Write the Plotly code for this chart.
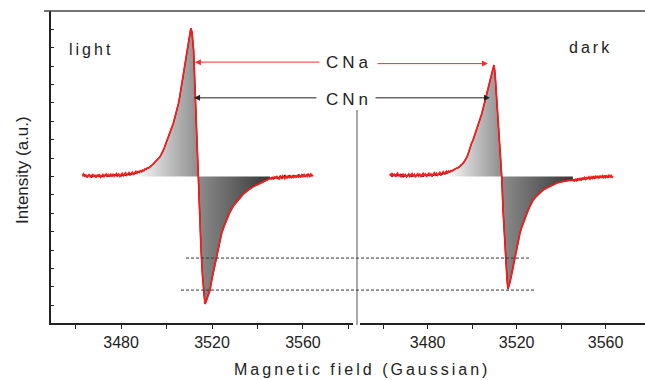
import plotly.graph_objects as go

FONT = "Liberation Sans, Arial, sans-serif"
INK = "#222222"
W, H = 645, 380

# ---------------- data (field in Gauss, intensity in a.u.) ----------------
light_red = [
    (3463.0, 0.06), (3463.5, 0.14), (3464.0, 0.00), (3464.5, 0.11), (3465.0, -0.05), (3465.5, 0.07),
    (3466.0, 0.13), (3466.5, -0.04), (3467.0, 0.05), (3467.5, 0.13), (3468.0, -0.02), (3468.5, 0.09),
    (3469.0, -0.06), (3469.5, 0.07), (3470.0, 0.02), (3470.5, 0.12), (3471.0, -0.03), (3471.5, 0.06),
    (3472.0, 0.11), (3472.5, -0.01), (3473.0, 0.08), (3473.5, 0.14), (3474.0, 0.01), (3474.5, 0.10),
    (3475.0, 0.00), (3475.5, 0.12), (3476.0, 0.04), (3476.5, 0.15), (3477.0, 0.02), (3477.5, 0.11),
    (3478.0, 0.16), (3478.5, 0.04), (3479.0, 0.13), (3479.5, 0.01), (3480.0, 0.10), (3480.5, 0.17),
    (3481.0, 0.05), (3481.5, 0.14), (3482.0, 0.20), (3482.5, 0.07), (3483.0, 0.16), (3483.5, 0.22),
    (3484.0, 0.10), (3484.5, 0.19), (3485.0, 0.24), (3485.5, 0.13), (3486.0, 0.22), (3486.5, 0.28),
    (3487.0, 0.18), (3487.5, 0.28), (3488.0, 0.23), (3488.5, 0.31), (3489.0, 0.27), (3489.5, 0.35),
    (3490.0, 0.32), (3490.5, 0.40), (3491.0, 0.39), (3491.5, 0.46), (3492.0, 0.46), (3492.5, 0.53),
    (3493.0, 0.56), (3493.5, 0.61), (3494.0, 0.66), (3494.5, 0.72), (3495.0, 0.78), (3495.5, 0.85),
    (3496.0, 0.90), (3496.5, 0.99), (3497.0, 1.06), (3497.5, 1.16), (3498.0, 1.26), (3498.5, 1.41),
    (3499.0, 1.55), (3499.5, 1.71), (3500.0, 1.86), (3500.5, 2.04), (3501.0, 2.20), (3501.5, 2.37),
    (3502.0, 2.55), (3502.5, 2.73), (3503.0, 2.90), (3503.5, 3.13), (3504.0, 3.35), (3504.6, 3.62),
    (3505.2, 3.95), (3505.8, 4.33), (3506.3, 4.70), (3506.8, 5.09), (3507.4, 5.50), (3508.0, 5.91),
    (3508.5, 6.30), (3509.0, 6.72), (3509.5, 7.10), (3510.0, 7.51), (3510.4, 7.85), (3510.7, 8.07),
    (3511.2, 7.85), (3511.9, 6.88), (3512.4, 5.24), (3512.9, 3.61), (3513.4, 1.71), (3513.8, 0.00),
    (3514.3, -1.28), (3514.7, -2.64), (3515.2, -4.00), (3515.8, -5.35), (3516.4, -6.44), (3516.9, -6.93),
    (3517.5, -6.75), (3518.2, -6.45), (3519.1, -6.17), (3520.0, -5.55), (3521.0, -4.95), (3522.0, -4.41),
    (3523.0, -3.75), (3524.2, -3.10), (3525.3, -2.70), (3526.4, -2.36), (3527.8, -1.95), (3529.5, -1.58),
    (3531.5, -1.28), (3533.5, -0.98), (3535.9, -0.73), (3538.5, -0.52), (3541.1, -0.37), (3543.3, -0.22),
    (3545.5, -0.10), (3546.0, -0.14), (3546.5, -0.02), (3547.0, -0.12), (3547.5, 0.00), (3548.0, -0.10),
    (3548.5, 0.03), (3549.0, -0.08), (3549.5, -0.13), (3550.0, -0.01), (3550.5, -0.09), (3551.0, 0.04),
    (3551.5, -0.07), (3552.0, -0.11), (3552.5, 0.02), (3553.0, -0.06), (3553.5, 0.05), (3554.0, -0.08),
    (3554.5, 0.03), (3555.0, -0.05), (3555.5, 0.07), (3556.0, -0.04), (3556.5, 0.06), (3557.0, -0.06),
    (3557.5, 0.08), (3558.0, -0.02), (3558.5, 0.07), (3559.0, -0.03), (3559.5, 0.09), (3560.0, 0.00),
    (3560.5, 0.10), (3561.0, -0.01), (3561.5, 0.11), (3562.0, 0.01), (3562.5, 0.12), (3563.0, 0.02),
    (3563.5, 0.13), (3564.0, 0.04), (3564.4, 0.10),
]
light_black_left = [
    (3463, 0.02), (3464, 0.10), (3465, 0.00), (3466, 0.07), (3467, -0.04), (3468, 0.05), (3469, 0.01),
    (3470, 0.08), (3471, -0.03), (3472, 0.04), (3473, 0.09), (3474, 0.00), (3475, 0.06), (3476, 0.02),
    (3477, 0.10), (3478, 0.04), (3479, 0.08), (3480, 0.03), (3481, 0.11), (3482, 0.06), (3483, 0.12),
    (3484, 0.09), (3485, 0.16), (3486, 0.14), (3487, 0.21),
]
light_black_right = [
    (3546, -0.08), (3547, -0.14), (3548, -0.05), (3549, -0.12), (3550, 0.04), (3551, -0.09),
    (3552, 0.06), (3553, -0.07), (3554, 0.05), (3555, -0.06), (3556, 0.07), (3557, -0.02),
    (3558, 0.09), (3559, -0.03), (3560, 0.10), (3561, 0.00), (3562, 0.12), (3563, 0.02), (3564, 0.08),
]

dark_red = [
    (3463.0, 0.16), (3463.5, 0.06), (3464.0, 0.19), (3464.5, 0.03), (3465.0, 0.13), (3465.5, 0.00),
    (3466.0, 0.11), (3466.5, 0.18), (3467.0, 0.02), (3467.5, 0.12), (3468.0, -0.03), (3468.5, 0.09),
    (3469.0, 0.15), (3469.5, 0.01), (3470.0, 0.10), (3470.5, -0.02), (3471.0, 0.08), (3471.5, 0.14),
    (3472.0, 0.00), (3472.5, 0.09), (3473.0, 0.16), (3473.5, 0.02), (3474.0, 0.11), (3474.5, -0.01),
    (3475.0, 0.10), (3475.5, 0.15), (3476.0, 0.03), (3476.5, 0.12), (3477.0, 0.01), (3477.5, 0.11),
    (3478.0, 0.17), (3478.5, 0.04), (3479.0, 0.13), (3479.5, 0.02), (3480.0, 0.12), (3480.5, 0.18),
    (3481.0, 0.06), (3481.5, 0.14), (3482.0, 0.04), (3482.5, 0.15), (3483.0, 0.20), (3483.5, 0.08),
    (3484.0, 0.17), (3484.5, 0.07), (3485.0, 0.18), (3485.5, 0.23), (3486.0, 0.11), (3486.5, 0.21),
    (3487.0, 0.26), (3487.5, 0.15), (3488.0, 0.24), (3488.5, 0.29), (3489.0, 0.20), (3489.5, 0.29),
    (3490.0, 0.25), (3490.5, 0.32), (3491.0, 0.31), (3491.5, 0.37), (3492.0, 0.38), (3492.5, 0.43),
    (3493.0, 0.44), (3493.5, 0.49), (3494.0, 0.50), (3494.5, 0.56), (3495.0, 0.60), (3495.5, 0.67),
    (3496.0, 0.73), (3496.5, 0.82), (3497.0, 0.92), (3497.7, 1.06), (3498.4, 1.30), (3499.0, 1.55),
    (3499.7, 1.80), (3500.4, 1.98), (3501.2, 2.25), (3502.0, 2.55), (3502.8, 2.82), (3503.5, 3.07),
    (3504.3, 3.40), (3505.1, 3.78), (3505.9, 4.15), (3506.7, 4.54), (3507.4, 4.90), (3508.2, 5.28),
    (3508.9, 5.63), (3509.4, 5.90), (3509.8, 6.06), (3510.3, 5.60), (3510.7, 4.90), (3511.0, 4.16),
    (3511.5, 3.20), (3511.9, 2.36), (3512.6, 1.20), (3513.3, 0.00), (3513.9, -1.82), (3514.4, -3.00),
    (3514.8, -4.00), (3515.3, -4.90), (3515.7, -5.62), (3516.1, -6.11), (3516.6, -5.95), (3517.0, -5.73),
    (3517.7, -5.35), (3518.4, -4.92), (3519.0, -4.45), (3519.7, -4.00), (3520.6, -3.50), (3521.5, -3.07),
    (3522.3, -2.75), (3523.1, -2.47), (3523.9, -2.20), (3524.7, -1.98), (3526.0, -1.60), (3527.4, -1.28),
    (3528.5, -1.12), (3529.6, -1.00), (3530.8, -0.85), (3531.9, -0.73), (3533.5, -0.62), (3535.0, -0.52),
    (3536.5, -0.43), (3538.1, -0.35), (3539.9, -0.29), (3541.7, -0.24), (3543.5, -0.21), (3545.3, -0.19),
    (3546.0, -0.24), (3546.5, -0.12), (3547.0, -0.22), (3547.5, -0.10), (3548.0, -0.20), (3548.5, -0.08),
    (3549.0, -0.18), (3549.5, -0.06), (3550.0, -0.16), (3550.5, -0.05), (3551.0, -0.14), (3551.5, -0.03),
    (3552.0, -0.13), (3552.5, -0.02), (3553.0, -0.11), (3553.5, -0.01), (3554.0, -0.10), (3554.5, 0.02),
    (3555.0, -0.08), (3555.5, 0.01), (3556.0, -0.09), (3556.5, 0.04), (3557.0, -0.06), (3557.5, 0.03),
    (3558.0, -0.07), (3558.5, 0.05), (3559.0, -0.04), (3559.5, 0.06), (3560.0, -0.05), (3560.5, 0.04),
    (3561.0, -0.03), (3561.5, 0.07), (3562.0, -0.02), (3562.5, 0.06), (3563.0, -0.03), (3563.3, 0.02),
]
dark_black_left = [
    (3463, 0.10), (3464, 0.01), (3465, 0.14), (3466, 0.03), (3467, 0.09), (3468, 0.13), (3469, -0.02),
    (3470, 0.06), (3471, 0.02), (3472, 0.11), (3473, 0.00), (3474, 0.07), (3475, 0.03), (3476, 0.12),
    (3477, 0.05), (3478, 0.01), (3479, 0.09), (3480, 0.04), (3481, 0.12), (3482, 0.02), (3483, 0.10),
    (3484, 0.06), (3485, 0.13), (3486, 0.08), (3487, 0.17), (3488, 0.15), (3489, 0.24),
]
dark_black_right = [
    (3546, -0.17), (3547, -0.24), (3548, -0.13), (3549, -0.20), (3550, -0.09), (3551, -0.16),
    (3552, -0.06), (3553, -0.13), (3554, -0.03), (3555, -0.10), (3556, 0.00), (3557, -0.08),
    (3558, 0.01), (3559, -0.06), (3560, 0.03), (3561, -0.05), (3562, 0.02), (3563, -0.04),
]

# shaded lobes: [start, zero crossing, end]
light_fill = [3488.0, 3513.8, 3545.5]
dark_fill = [3490.0, 3513.3, 3545.3]

# reference levels (dashed lines)
ref_levels = [-4.43, -6.17]

# arrow targets: (tip field, tip intensity, tail field)
arrows_light = {"CNa": (3512.5, 6.22, 3567.9), "CNn": (3512.1, 4.28, 3566.6)}
arrows_dark = {"CNa": (3507.1, 6.14, 3456.8), "CNn": (3508.0, 4.28, 3455.9)}

major_ticks = [3480, 3520, 3560]
minor_ticks = [3460, 3500, 3540, 3580]

panel_labels = ["light", "dark"]
series_labels = ["CNa", "CNn"]


def unzip(pts):
    return [p[0] for p in pts], [p[1] for p in pts]


def sub(pts, lo, hi):
    return [p for p in pts if lo <= p[0] <= hi]


fig = go.Figure()

for pts, blk_l, blk_r, fl, xa in [
    (light_red, light_black_left, light_black_right, light_fill, "x"),
    (dark_red, dark_black_left, dark_black_right, dark_fill, "x2"),
]:
    # positive lobe gradient fill
    px, py = unzip(sub(pts, fl[0], fl[1]))
    fig.add_trace(go.Scatter(
        x=px, y=py, xaxis=xa, yaxis="y", mode="lines", line=dict(width=0),
        fill="tozeroy", fillcolor="#aaaaaa",
        fillgradient=dict(type="horizontal", colorscale=[[0, "#f4f4f4"], [1, "#8e8e8e"]]),
        hoverinfo="skip", showlegend=False))
    nx, ny = unzip(sub(pts, fl[1], fl[2]))
    fig.add_trace(go.Scatter(
        x=nx, y=ny, xaxis=xa, yaxis="y", mode="lines", line=dict(width=0),
        fill="tozeroy", fillcolor="#666666",
        fillgradient=dict(type="horizontal", colorscale=[[0, "#8c8c8c"], [1, "#383838"]]),
        hoverinfo="skip", showlegend=False))
    # black (CNn) trace
    blk = blk_l + sub(pts, blk_l[-1][0] + 0.01, blk_r[0][0] - 0.01) + blk_r
    bx, by = unzip(blk)
    fig.add_trace(go.Scatter(x=bx, y=by, xaxis=xa, yaxis="y", mode="lines",
                             line=dict(color="#111111", width=1.2), showlegend=False))
    rx, ry = unzip(pts)
    fig.add_trace(go.Scatter(x=rx, y=ry, xaxis=xa, yaxis="y", mode="lines",
                             line=dict(color="#ff1a1a", width=1.7), showlegend=False))

axis_common = dict(
    showline=True, linecolor=INK, linewidth=1.5, showgrid=False, zeroline=False,
    ticks="outside", ticklen=4, tickwidth=1, tickcolor=INK, tickvals=major_ticks,
    tickfont=dict(family=FONT, size=16, color=INK),
    minor=dict(tickvals=minor_ticks, ticks="outside", ticklen=4, tickcolor=INK, tickwidth=1),
)

fig.update_layout(
    width=W, height=H, margin=dict(l=0, r=0, t=0, b=0),
    paper_bgcolor="white", plot_bgcolor="white",
    xaxis=dict(domain=[51 / W, 353 / W], range=[3449.2, 3582.0], anchor="y", **axis_common),
    xaxis2=dict(domain=[360 / W, 1.0], range=[3449.6, 3577.7], anchor="y", **axis_common),
    yaxis=dict(domain=[1 - 323 / H, 1 - 11 / H], range=[-7.96, 9.0], anchor="x",
               showline=True, linecolor=INK, linewidth=1.5, showgrid=False, zeroline=False,
               ticks="inside", ticklen=3, tickcolor=INK, tick0=0, dtick=1, showticklabels=False),
    showlegend=False,
)

shapes = [
    dict(type="line", xref="paper", yref="paper", x0=44 / W, x1=1.0, y0=1 - 11 / H, y1=1 - 11 / H,
         line=dict(color="#444444", width=1.5)),
    dict(type="line", xref="paper", yref="paper", x0=357 / W, x1=357 / W, y0=1 - 110 / H, y1=1 - 325 / H,
         line=dict(color="#555555", width=1)),
    dict(type="line", xref="paper", yref="y", x0=186 / W, x1=529 / W, y0=ref_levels[0], y1=ref_levels[0],
         line=dict(color="#333333", width=1, dash="3px,2px")),
    dict(type="line", xref="paper", yref="y", x0=181 / W, x1=535 / W, y0=ref_levels[1], y1=ref_levels[1],
         line=dict(color="#333333", width=1, dash="3px,2px")),
]
fig.update_layout(shapes=shapes)

ann = []
arrow_colors = {"CNa": "#ee3030", "CNn": "#222222"}
for lab in series_labels:
    for arr, xr in [(arrows_light, "x"), (arrows_dark, "x2")]:
        tipx, tipy, tailx = arr[lab]
        ann.append(dict(x=tipx, y=tipy, xref=xr, yref="y", ax=tailx, ay=tipy, axref=xr, ayref="y",
                        text="", showarrow=True, arrowhead=2, arrowsize=1.2, arrowwidth=1,
                        arrowcolor=arrow_colors[lab], standoff=0))


def spaced(t, sp):
    return f"<span style='letter-spacing:{sp}px'>{t}</span>"


ann += [
    dict(x=349 / W, y=1 - 63 / H, xref="paper", yref="paper", text=spaced(series_labels[0], 4),
         showarrow=False, font=dict(family=FONT, size=17, color=INK), xanchor="center", yanchor="middle"),
    dict(x=349 / W, y=1 - 99 / H, xref="paper", yref="paper", text=spaced(series_labels[1], 4),
         showarrow=False, font=dict(family=FONT, size=17, color=INK), xanchor="center", yanchor="middle"),
    dict(x=91 / W, y=1 - 49 / H, xref="paper", yref="paper", text=spaced(panel_labels[0], 3),
         showarrow=False, font=dict(family=FONT, size=16, color=INK), xanchor="center", yanchor="middle"),
    dict(x=590 / W, y=1 - 47 / H, xref="paper", yref="paper", text=spaced(panel_labels[1], 3),
         showarrow=False, font=dict(family=FONT, size=16, color=INK), xanchor="center", yanchor="middle"),
    dict(x=22 / W, y=1 - 170 / H, xref="paper", yref="paper", text="Intensity (a.u.)", textangle=-90,
         showarrow=False, font=dict(family=FONT, size=17, color=INK), xanchor="center", yanchor="middle"),
    dict(x=362 / W, y=1 - 369 / H, xref="paper", yref="paper", text=spaced("Magnetic field (Gaussian)", 3),
         showarrow=False, font=dict(family=FONT, size=16, color=INK), xanchor="center", yanchor="middle"),
]
fig.update_layout(annotations=ann)

fig.write_html("out.html")
